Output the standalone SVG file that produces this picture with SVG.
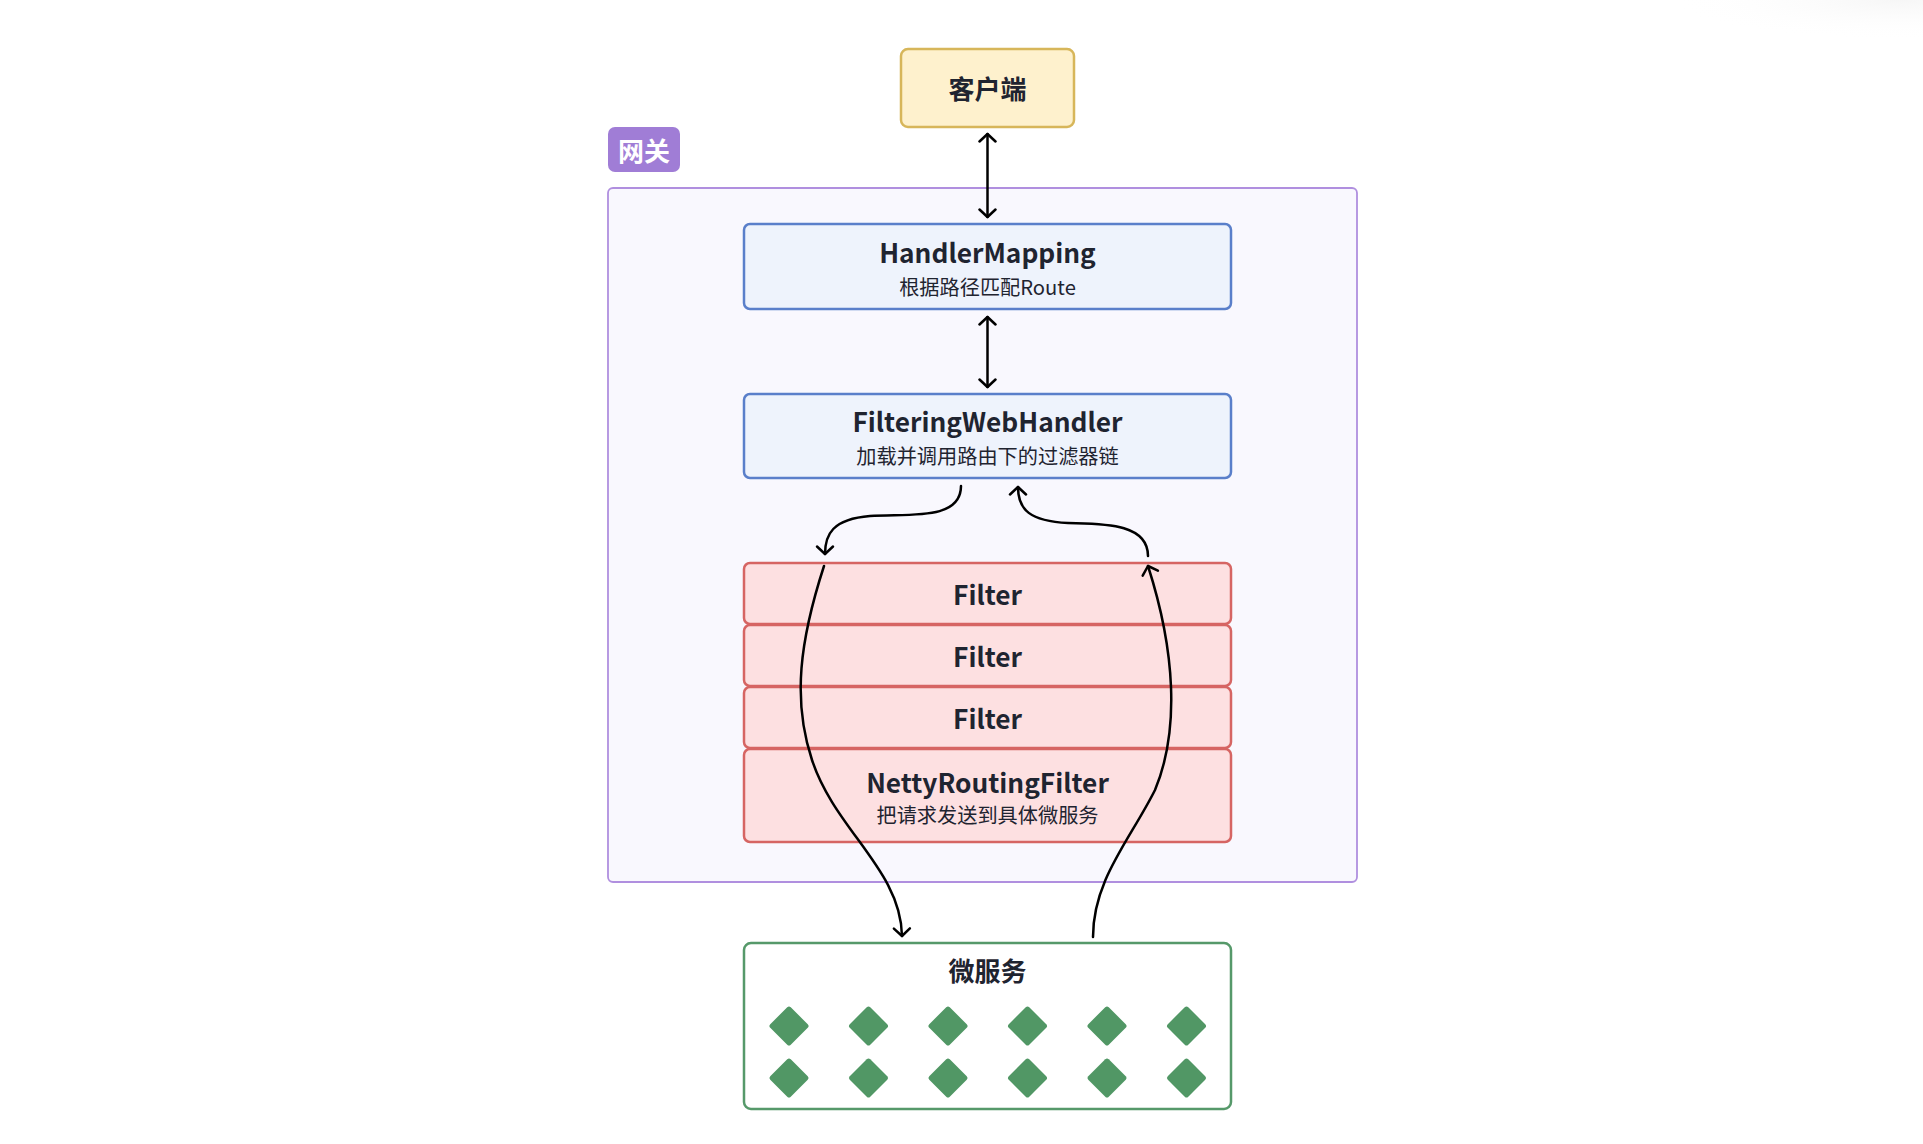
<svg xmlns="http://www.w3.org/2000/svg" width="1923" height="1144" viewBox="0 0 1923 1144">
  <style>
    text { font-family: "Noto Sans CJK SC", "Noto Sans", sans-serif; fill: #1f2430; text-anchor: middle; }
    .title { font-size: 26.3px; font-weight: 700; }
    .sub { font-size: 20.2px; font-weight: 400; }
    .cjkt { font-size: 26px; font-weight: 700; }
    .blue { fill: #eef3fc; stroke: #5a7fca; stroke-width: 2.5; }
    .red { fill: #fde0e1; stroke: #d66563; stroke-width: 2.5; }
    .conn { fill: none; stroke: #000; stroke-width: 2.5; stroke-linecap: round; }
  </style>
  <defs>
    <marker id="arr" viewBox="0 0 20 20" refX="10" refY="10" markerWidth="20" markerHeight="20" markerUnits="userSpaceOnUse" orient="auto-start-reverse">
      <path d="M2.5,2 L10,10 L2.5,18" fill="none" stroke="#000" stroke-width="2.5" stroke-linecap="round" stroke-linejoin="round"/>
    </marker>
    <rect id="dia" x="-14.5" y="-14.5" width="29" height="29" rx="2.5" fill="#519765" transform="rotate(45)"/>
    <radialGradient id="glow" cx="0.5" cy="0.5" r="0.5">
      <stop offset="0" stop-color="#f4f4f4" stop-opacity="0.8"/>
      <stop offset="1" stop-color="#ffffff" stop-opacity="0"/>
    </radialGradient>
  </defs>
  <rect width="1923" height="1144" fill="#ffffff"/>
  <ellipse cx="1900" cy="0" rx="230" ry="40" fill="url(#glow)"/>

  <g id="gateway">
    <rect x="608" y="188" width="749" height="694" rx="5" fill="#f9f8fe" stroke="#b08fdf" stroke-width="1.8"/>
    <rect x="608" y="127" width="72" height="45" rx="7" fill="#a07dd6"/>
    <text x="644" y="161" class="cjkt" style="fill:#ffffff">网关</text>
  </g>

  <g id="client">
    <rect x="901" y="49" width="173" height="78" rx="7" fill="#fef1cd" stroke="#d7b65a" stroke-width="2.5"/>
    <text x="987.5" y="99" class="cjkt">客户端</text>
  </g>

  <g id="handlerMapping">
    <rect x="744" y="224" width="487" height="85" rx="6" class="blue"/>
    <text x="987.5" y="263" class="title">HandlerMapping</text>
    <text x="987.5" y="295" class="sub">根据路径匹配Route</text>
  </g>

  <g id="filteringWebHandler">
    <rect x="744" y="394" width="487" height="84" rx="6" class="blue"/>
    <text x="987.5" y="432" class="title">FilteringWebHandler</text>
    <text x="987.5" y="464" class="sub">加载并调用路由下的过滤器链</text>
  </g>

  <g id="filter1">
    <rect x="744" y="563" width="487" height="61" rx="6" class="red"/>
    <text x="987.5" y="605" class="title">Filter</text>
  </g>
  <g id="filter2">
    <rect x="744" y="625" width="487" height="61" rx="6" class="red"/>
    <text x="987.5" y="667" class="title">Filter</text>
  </g>
  <g id="filter3">
    <rect x="744" y="687" width="487" height="61" rx="6" class="red"/>
    <text x="987.5" y="729" class="title">Filter</text>
  </g>
  <g id="nettyRoutingFilter">
    <rect x="744" y="749" width="487" height="93" rx="6" class="red"/>
    <text x="987.5" y="793" class="title">NettyRoutingFilter</text>
    <text x="987.5" y="823" class="sub">把请求发送到具体微服务</text>
  </g>

  <g id="microservices">
    <rect x="744" y="943" width="487" height="166" rx="7" fill="#ffffff" stroke="#56996a" stroke-width="2.5"/>
    <text x="987.5" y="981" class="cjkt">微服务</text>
    <use href="#dia" x="789" y="1026"/>
    <use href="#dia" x="868.5" y="1026"/>
    <use href="#dia" x="948" y="1026"/>
    <use href="#dia" x="1027.5" y="1026"/>
    <use href="#dia" x="1107" y="1026"/>
    <use href="#dia" x="1186.5" y="1026"/>
    <use href="#dia" x="789" y="1078"/>
    <use href="#dia" x="868.5" y="1078"/>
    <use href="#dia" x="948" y="1078"/>
    <use href="#dia" x="1027.5" y="1078"/>
    <use href="#dia" x="1107" y="1078"/>
    <use href="#dia" x="1186.5" y="1078"/>
  </g>

  <g id="connectors">
    <path class="conn" d="M987.5,134 L987.5,217" marker-start="url(#arr)" marker-end="url(#arr)"/>
    <path class="conn" d="M987.5,317 L987.5,387" marker-start="url(#arr)" marker-end="url(#arr)"/>
    <path class="conn" d="M961,486 C961,522 905,513 870,516 C832,519 825,535 825,554" marker-end="url(#arr)"/>
    <path class="conn" d="M1148,556 C1148,522 1100,524 1068,523 C1030,521 1018,510 1018,487" marker-end="url(#arr)"/>
    <path class="conn" d="M824,566 C800,640 792,700 812,760 C835,830 901,870 902,936" marker-end="url(#arr)"/>
    <path class="conn" d="M1093,937 C1093,880 1130,840 1155,790 C1180,730 1175,650 1148,566" marker-end="url(#arr)"/>
  </g>
</svg>
